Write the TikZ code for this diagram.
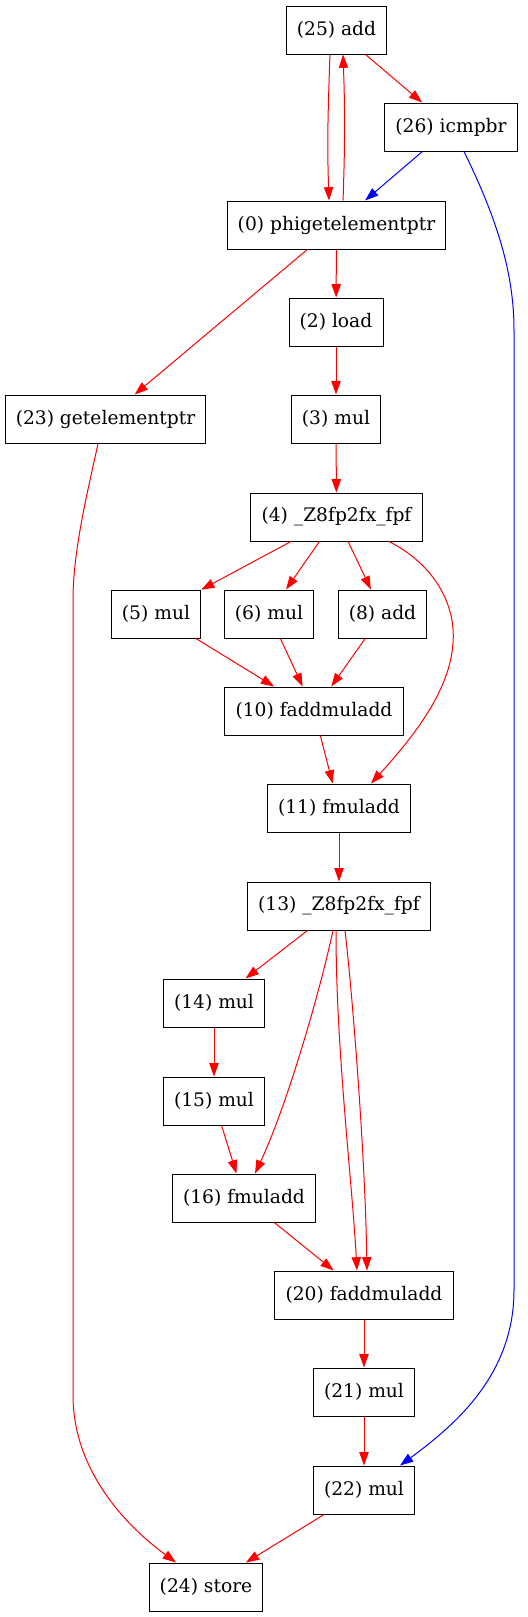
\documentclass[tikz,border=0pt]{standalone}
\usepackage{fontspec}
\setmainfont{DejaVu Serif}
\usetikzlibrary{arrows.meta}

\tikzset{
	opnode/.style = {draw, line width=0.75pt, minimum height=36pt, minimum width=54pt, inner xsep=8pt, font=\fontsize{14}{16}\selectfont},
	dep/.style = {red, line width=0.75pt, -{Triangle[length=10pt,width=7pt]}},
	ctl/.style = {blue, line width=0.75pt, -{Triangle[length=10pt,width=7pt]}}
}

\begin{document}
\begin{tikzpicture}[x=0.75pt, y=-0.75pt]
	\useasboundingbox (0,0) rectangle (528,1617);

	\node (n25)[opnode] at(336.5,30) {(25) add};
	\node (n26)[opnode] at(451,127) {(26) icmpbr};
	\node (n0)[opnode] at(336.5,225) {(0) phigetelementptr};
	\node (n2)[opnode] at(336,322) {(2) load};
	\node (n23)[opnode] at(105.5,419) {(23) getelementptr};
	\node (n3)[opnode] at(336,419) {(3) mul};
	\node (n4)[opnode] at(336.5,517) {(4) \_Z8fp2fx\_fpf};
	\node (n5)[opnode] at(156,614) {(5) mul};
	\node (n6)[opnode] at(269,614) {(6) mul};
	\node (n8)[opnode] at(382.5,614) {(8) add};
	\node (n10)[opnode] at(314,711) {(10) faddmuladd};
	\node (n11)[opnode] at(339,808) {(11) fmuladd};
	\node (n13)[opnode] at(339,906) {(13) \_Z8fp2fx\_fpf};
	\node (n14)[opnode] at(214,1003) {(14) mul};
	\node (n15)[opnode] at(214,1101) {(15) mul};
	\node (n16)[opnode] at(244,1198) {(16) fmuladd};
	\node (n20)[opnode] at(364,1295) {(20) faddmuladd};
	\node (n21)[opnode] at(364,1392) {(21) mul};
	\node (n22)[opnode] at(364,1490) {(22) mul};
	\node (n24)[opnode] at(206,1587) {(24) store};

	% top loop
	\draw [dep]([xshift=-4.9pt]n25.south) to[out=-92, in=92] ([xshift=-5.6pt]n0.north);
	\draw [dep]([xshift=4.9pt]n0.north) to[out=88, in=-88] ([xshift=4.9pt]n25.south);
	\draw [dep](n25)--(n26);
	\draw [ctl](n26)--(n0);
	\draw [ctl]([xshift=9.75pt]n26.south) .. controls (495,215) and (514,270) .. (514,330) -- (514,1290) .. controls (514,1375) and (455,1425) .. ([xshift=27pt]n22.north);

	\draw [dep](n0)--(n2);
	\draw [dep](n0)--(n23);
	\draw [dep](n2)--(n3);
	\draw [dep](n3)--(n4);
	\draw [dep]([xshift=-5.6pt]n23.south) .. controls (88,490) and (73,550) .. (73,600) -- (73,1395) .. controls (73,1470) and (125,1525) .. ([xshift=-22.5pt]n24.north);

	\draw [dep](n4)--(n5);
	\draw [dep](n4)--(n6);
	\draw [dep](n4)--(n8);
	\draw [dep]([xshift=39.4pt]n4.south) .. controls (435,565) and (456,605) .. (453,643) .. controls (450,690) and (415,735) .. ([xshift=24pt]n11.north);
	\draw [dep](n5)--(n10);
	\draw [dep](n6)--(n10);
	\draw [dep](n8)--(n10);
	\draw [dep](n10)--(n11);
	\draw [dep](n11)--(n13);

	\draw [dep](n13)--(n14);
	\draw [dep]([xshift=-4.5pt]n13.south) .. controls (318,1000) and (285,1110) .. ([xshift=8.25pt]n16.north);
	\draw [dep]([xshift=-2.25pt]n13.south) .. controls (336,1050) and (352,1180) .. ([xshift=-5.25pt]n20.north);
	\draw [dep]([xshift=4.5pt]n13.south) .. controls (352,990) and (365,1150) .. ([xshift=2.25pt]n20.north);
	\draw [dep](n14)--(n15);
	\draw [dep](n15)--(n16);
	\draw [dep](n16)--(n20);

	\draw [dep](n20)--(n21);
	\draw [dep](n21)--(n22);
	\draw [dep](n22)--(n24);
\end{tikzpicture}
\end{document}
